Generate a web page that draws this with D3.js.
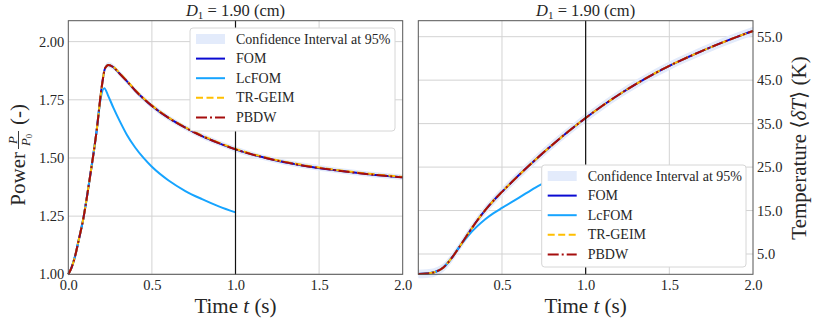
<!DOCTYPE html>
<html>
<head>
<meta charset="utf-8">
<script src="https://cdn.jsdelivr.net/npm/d3@7"></script>
<style>
  body { margin: 0; background: #fff; }
  svg text { font-family: "Liberation Serif", "Times New Roman", "DejaVu Serif", serif; fill: #262626; }
  .grid line { stroke: #d3d3d3; stroke-width: 1; }
</style>
</head>
<body>
<svg id="fig" width="814" height="323"></svg>
<script>
// ---- data ----
// power, normalised P/P0
const timePower = [0, 0.02, 0.04, 0.06, 0.09, 0.13, 0.17, 0.2, 0.22, 0.24, 0.27, 0.3, 0.35, 0.4, 0.45, 0.5, 0.6, 0.7, 0.8, 0.9, 1.0, 1.2, 1.4, 1.6, 1.8, 2.0];
const powerFOM    = [1.0, 1.03, 1.076, 1.14, 1.24, 1.42, 1.62, 1.806, 1.886, 1.90, 1.89, 1.868, 1.83, 1.79, 1.755, 1.724, 1.672, 1.63, 1.594, 1.564, 1.537, 1.497, 1.468, 1.447, 1.43, 1.417];
const powerTRGEIM = [1.0, 1.03, 1.076, 1.14, 1.24, 1.42, 1.62, 1.806, 1.886, 1.90, 1.892, 1.87, 1.832, 1.792, 1.757, 1.726, 1.674, 1.632, 1.596, 1.566, 1.539, 1.499, 1.47, 1.449, 1.432, 1.419];
const powerPBDW   = [1.0, 1.03, 1.076, 1.14, 1.24, 1.42, 1.62, 1.806, 1.886, 1.90, 1.89, 1.868, 1.83, 1.79, 1.755, 1.724, 1.672, 1.63, 1.594, 1.564, 1.537, 1.497, 1.468, 1.447, 1.43, 1.417];
const powerCI = 0.012;

const timePowerLc = [0, 0.02, 0.04, 0.06, 0.09, 0.13, 0.17, 0.19, 0.215, 0.24, 0.27, 0.31, 0.35, 0.4, 0.45, 0.5, 0.6, 0.7, 0.8, 0.9, 1.0];
const powerLcFOM  = [1.0, 1.03, 1.076, 1.14, 1.24, 1.42, 1.62, 1.74, 1.80, 1.765, 1.715, 1.655, 1.60, 1.545, 1.50, 1.462, 1.403, 1.358, 1.323, 1.292, 1.266];

// mean temperature increase <dT> (K)
const timeTemp = [0, 0.05, 0.1, 0.15, 0.2, 0.25, 0.3, 0.35, 0.4, 0.45, 0.5, 0.6, 0.7, 0.8, 0.9, 1.0, 1.1, 1.2, 1.3, 1.4, 1.5, 1.6, 1.7, 1.8, 1.9, 2.0];
const tempFOM    = [0.4, 0.5, 0.85, 1.9, 4.1, 6.9, 9.8, 12.6, 15.1, 17.3, 19.3, 23.1, 26.7, 30.1, 33.3, 36.3, 39.1, 41.7, 44.1, 46.3, 48.3, 50.1, 51.8, 53.4, 54.9, 56.3];
const tempTRGEIM = [0.4, 0.5, 0.85, 1.9, 4.1, 6.9, 9.8, 12.6, 15.1, 17.3, 19.3, 23.1, 26.7, 30.1, 33.3, 36.3, 39.1, 41.7, 44.1, 46.3, 48.3, 50.1, 51.8, 53.4, 54.9, 56.3];
const tempPBDW   = [0.4, 0.5, 0.85, 1.9, 4.1, 6.9, 9.8, 12.6, 15.1, 17.3, 19.3, 23.1, 26.7, 30.1, 33.3, 36.3, 39.1, 41.7, 44.1, 46.3, 48.3, 50.1, 51.8, 53.4, 54.9, 56.3];
const tempCI = 1.0;

const timeTempLc = [0, 0.05, 0.1, 0.15, 0.2, 0.25, 0.3, 0.35, 0.4, 0.45, 0.5, 0.6, 0.7, 0.8];
const tempLcFOM  = [0.4, 0.5, 0.85, 1.9, 4.1, 6.9, 9.3, 11.3, 13.0, 14.4, 15.6, 17.9, 20.3, 22.3];

const timeTicks = [0, 0.5, 1.0, 1.5, 2.0];
const timeTicksRight = [0.5, 1.0, 1.5, 2.0];
const powerTicks = [1.0, 1.25, 1.5, 1.75, 2.0];
const tempTicks = [5, 15, 25, 35, 45, 55];
const legendNames = ["Confidence Interval at 95%", "FOM", "LcFOM", "TR-GEIM", "PBDW"];

// ---- styling ----
const styles = {
  FOM:      { color: "#0a0ad2", dash: null },
  LcFOM:    { color: "#16a4ff", dash: null },
  "TR-GEIM":{ color: "#ffbf00", dash: "7,3.5" },
  PBDW:     { color: "#a50d0d", dash: "11,3,2,3" }
};
const bandColor = "#e3ebfb";

const svg = d3.select("#fig");

function zip(t, v) { return t.map((d, i) => [d, v[i]]); }

function drawPanel(opts) {
  const x = d3.scaleLinear().domain([0, 2]).range([opts.left, opts.right]);
  const y = d3.scaleLinear().domain(opts.yDomain).range([opts.bottom, opts.top]);
  const g = svg.append("g");

  // grid
  const grid = g.append("g").attr("class", "grid");
  grid.selectAll(".gx").data(opts.xTicks).enter().append("line")
    .attr("x1", d => x(d)).attr("x2", d => x(d))
    .attr("y1", opts.top).attr("y2", opts.bottom);
  grid.selectAll(".gy").data(opts.yTicks).enter().append("line")
    .attr("x1", opts.left).attr("x2", opts.right)
    .attr("y1", d => y(d)).attr("y2", d => y(d));

  // confidence band
  const area = d3.area().curve(d3.curveMonotoneX)
    .x(d => x(d[0])).y0(d => y(d[1] - opts.ci)).y1(d => y(d[1] + opts.ci));
  g.append("path").datum(zip(opts.t, opts.fom))
    .attr("d", area).attr("fill", bandColor);

  const line = d3.line().curve(d3.curveMonotoneX).x(d => x(d[0])).y(d => y(d[1]));
  const series = [
    ["FOM", opts.t, opts.fom],
    ["LcFOM", opts.tLc, opts.lc],
    ["TR-GEIM", opts.t, opts.tr],
    ["PBDW", opts.t, opts.pbdw]
  ];
  series.forEach(s => {
    g.append("path").datum(zip(s[1], s[2]))
      .attr("d", line)
      .attr("fill", "none")
      .attr("stroke", styles[s[0]].color)
      .attr("stroke-width", 2)
      .attr("stroke-dasharray", styles[s[0]].dash);
  });

  // vertical marker at t = 1
  g.append("line")
    .attr("x1", x(1)).attr("x2", x(1))
    .attr("y1", opts.top).attr("y2", opts.bottom)
    .attr("stroke", "#111").attr("stroke-width", 1.2);

  // frame
  g.append("rect")
    .attr("x", opts.left).attr("y", opts.top)
    .attr("width", opts.right - opts.left).attr("height", opts.bottom - opts.top)
    .attr("fill", "none").attr("stroke", "#555").attr("stroke-width", 1);

  // axes
  const xAxis = d3.axisBottom(x).tickValues(opts.xTicksLabels)
    .tickFormat(d3.format(".1f")).tickSize(0).tickPadding(5);
  g.append("g").attr("transform", `translate(0,${opts.bottom})`).call(xAxis)
    .call(a => a.select(".domain").remove())
    .selectAll("text").attr("font-size", 14.5);

  const yAxis = (opts.yRight ? d3.axisRight(y) : d3.axisLeft(y))
    .tickValues(opts.yTicks).tickFormat(d3.format(opts.yFormat))
    .tickSize(0).tickPadding(4);
  g.append("g").attr("transform", `translate(${opts.yRight ? opts.right : opts.left},0)`).call(yAxis)
    .call(a => a.select(".domain").remove())
    .selectAll("text").attr("font-size", 14.5);

  // title
  const title = g.append("text")
    .attr("x", (opts.left + opts.right) / 2).attr("y", 16)
    .attr("text-anchor", "middle").attr("font-size", 16.5);
  title.append("tspan").attr("font-style", "italic").text("D");
  title.append("tspan").attr("font-size", 11).attr("dy", 3).text("1");
  title.append("tspan").attr("dy", -3).text(" = 1.90 (cm)");

  // x label
  const xl = g.append("text")
    .attr("x", (opts.left + opts.right) / 2).attr("y", 313)
    .attr("text-anchor", "middle").attr("font-size", 21);
  xl.append("tspan").text("Time ");
  xl.append("tspan").attr("font-style", "italic").text("t");
  xl.append("tspan").text(" (s)");

  drawLegend(g, opts.legend);
  return { x, y };
}

function drawLegend(g, box) {
  const lg = g.append("g").attr("transform", `translate(${box.x},${box.y})`);
  lg.append("rect")
    .attr("width", box.w).attr("height", box.h).attr("rx", 3)
    .attr("fill", "#fff").attr("stroke", "#d6d6d6").attr("stroke-width", 1);

  const rows = lg.selectAll(".row").data(legendNames).enter().append("g")
    .attr("transform", (d, i) => `translate(0,${11 + i * 19.6})`);

  rows.each(function(d, i) {
    const r = d3.select(this);
    if (i === 0) {
      r.append("rect").attr("x", 6).attr("y", -5).attr("width", 29).attr("height", 10)
        .attr("fill", bandColor);
    } else {
      r.append("line").attr("x1", 6).attr("x2", 35).attr("y1", 0).attr("y2", 0)
        .attr("stroke", styles[d].color).attr("stroke-width", 2)
        .attr("stroke-dasharray", styles[d].dash);
    }
    r.append("text").attr("x", 46).attr("y", 4.5)
      .attr("font-size", 14).text(d);
  });
}

// left panel: power
drawPanel({
  left: 68.3, right: 402.7, top: 20.7, bottom: 274.3,
  yDomain: [1.0, 2.09], xTicks: [0.5, 1.0, 1.5], xTicksLabels: timeTicks,
  yTicks: powerTicks, yFormat: ".2f", yRight: false,
  t: timePower, fom: powerFOM, tr: powerTRGEIM, pbdw: powerPBDW, ci: powerCI,
  tLc: timePowerLc, lc: powerLcFOM,
  legend: { x: 190, y: 28, w: 205, h: 103 }
});

// right panel: temperature
drawPanel({
  left: 418.3, right: 753, top: 20.7, bottom: 274.3,
  yDomain: [0.33, 58.68], xTicks: [0.5, 1.0, 1.5], xTicksLabels: timeTicksRight,
  yTicks: tempTicks, yFormat: ".1f", yRight: true,
  t: timeTemp, fom: tempFOM, tr: tempTRGEIM, pbdw: tempPBDW, ci: tempCI,
  tLc: timeTempLc, lc: tempLcFOM,
  legend: { x: 541.7, y: 165, w: 204.3, h: 102 }
});

// y labels
const pl = svg.append("g").attr("transform", "translate(18,150) rotate(-90)");
pl.append("text").attr("x", -2).attr("y", 7).attr("text-anchor", "end")
  .attr("font-size", 21).text("Power");
pl.append("text").attr("x", 10).attr("y", -1.5).attr("text-anchor", "middle")
  .attr("font-size", 13).attr("font-style", "italic").text("P");
pl.append("line").attr("x1", 1).attr("x2", 19).attr("y1", 0.5).attr("y2", 0.5)
  .attr("stroke", "#262626").attr("stroke-width", 0.9);
const den = pl.append("text").attr("x", 10).attr("y", 11.5).attr("text-anchor", "middle")
  .attr("font-size", 13);
den.append("tspan").attr("font-style", "italic").text("P");
den.append("tspan").attr("font-size", 8.5).attr("dy", 2).text("0");
pl.append("text").attr("x", 25).attr("y", 7).attr("text-anchor", "start")
  .attr("font-size", 21).text("(-)");

const tl = svg.append("text")
  .attr("transform", "translate(806,148) rotate(-90)")
  .attr("text-anchor", "middle").attr("font-size", 21);
tl.append("tspan").text("Temperature ⟨");
tl.append("tspan").attr("font-style", "italic").text("δT");
tl.append("tspan").text("⟩ (K)");
</script>
</body>
</html>
